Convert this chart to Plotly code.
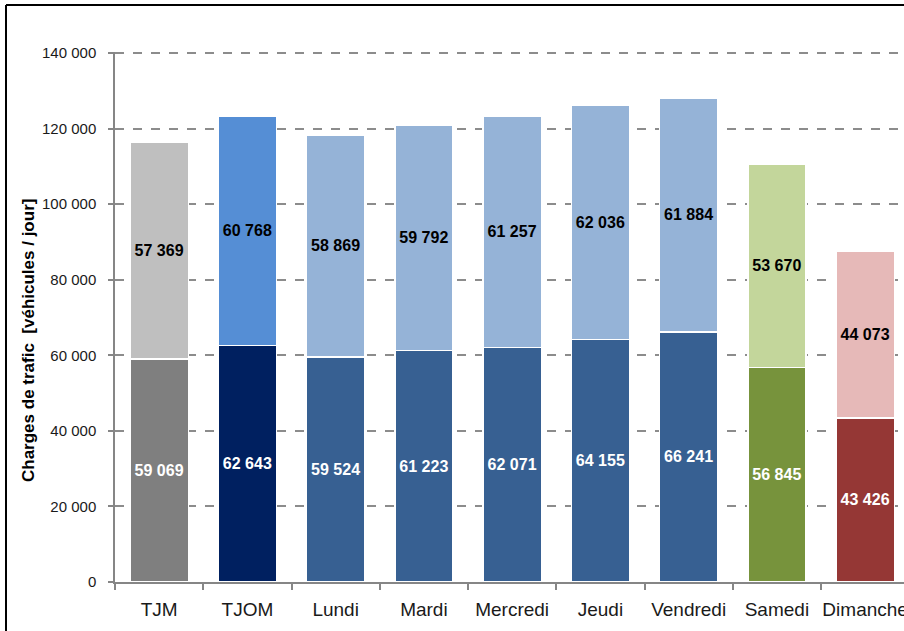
import plotly.graph_objects as go

categories = ["TJM", "TJOM", "Lundi", "Mardi", "Mercredi", "Jeudi", "Vendredi", "Samedi", "Dimanche"]
lower_values = [59069, 62643, 59524, 61223, 62071, 64155, 66241, 56845, 43426]
upper_values = [57369, 60768, 58869, 59792, 61257, 62036, 61884, 53670, 44073]

lower_colors = ["#7F7F7F", "#002060", "#376092", "#376092", "#376092", "#376092", "#376092", "#77933C", "#953735"]
upper_colors = ["#BFBFBF", "#558ED5", "#95B3D7", "#95B3D7", "#95B3D7", "#95B3D7", "#95B3D7", "#C3D69B", "#E6B9B8"]

y_ticks = [0, 20000, 40000, 60000, 80000, 100000, 120000, 140000]


def fmt(v):
    return f"{v:,}".replace(",", " ")


label_font = "Liberation Sans, Arial, sans-serif"

fig = go.Figure()
fig.add_trace(go.Bar(
    x=categories, y=lower_values,
    marker=dict(color=lower_colors, line=dict(color="white", width=1.5)),
    text=[fmt(v) for v in lower_values],
    textposition="inside", insidetextanchor="middle", textangle=0,
    textfont=dict(family=label_font, size=16, color="white", weight="bold"),
    width=0.66, hoverinfo="skip",
))
fig.add_trace(go.Bar(
    x=categories, y=upper_values,
    marker=dict(color=upper_colors, line=dict(color="white", width=1.5)),
    text=[fmt(v) for v in upper_values],
    textposition="inside", insidetextanchor="middle", textangle=0,
    textfont=dict(family=label_font, size=16, color="black", weight="bold"),
    width=0.66, hoverinfo="skip",
))

L, R, T, B = 115, 0, 52, 49
W, H = 904, 631
pw, ph = W - L - R, H - T - B

fig.update_layout(
    width=W, height=H,
    margin=dict(l=L, r=R, t=T, b=B),
    barmode="stack",
    showlegend=False,
    plot_bgcolor="white", paper_bgcolor="white",
    separators=", ",
    uniformtext=dict(minsize=16, mode="show"),
    font=dict(family=label_font, color="#1a1a1a"),
)
fig.update_xaxes(
    range=[-0.5, -0.5 + pw / 88.25],
    automargin=False, tickangle=0,
    showline=True, linecolor="#868686", linewidth=1.5,
    ticks="outside", tickson="boundaries", ticklen=6, tickcolor="#868686", tickwidth=1.5,
    tickfont=dict(family=label_font, size=19, color="#1a1a1a"),
    ticklabelstandoff=9,
    showgrid=False,
)
fig.update_yaxes(
    range=[0, 140300],
    automargin=False,
    tickvals=y_ticks, tickformat=",",
    showline=True, linecolor="#868686", linewidth=1.5,
    ticks="outside", ticklen=5, tickcolor="#868686", tickwidth=1.5,
    tickfont=dict(family=label_font, size=15, color="#1a1a1a"),
    ticklabelstandoff=9,
    showgrid=True, gridcolor="#8C8C8C", griddash="dash", gridwidth=1.5,
    zeroline=False,
)

# vertical axis title
fig.add_annotation(
    text="Charges de trafic  [véhicules / jour]",
    xref="paper", yref="paper",
    x=(28 - L) / pw, y=1 - (341 - T) / ph,
    xanchor="center", yanchor="middle",
    textangle=-90, showarrow=False,
    font=dict(family=label_font, size=17, color="black", weight="bold"),
)

# outer black frame (left and top edges)
fx = (6 - L) / pw
fy = 1 + (T - 5) / ph
fig.add_shape(type="line", xref="paper", yref="paper",
              x0=fx, x1=fx, y0=-1, y1=fy, line=dict(color="black", width=2))
fig.add_shape(type="line", xref="paper", yref="paper",
              x0=fx, x1=2, y0=fy, y1=fy, line=dict(color="black", width=2))

fig.write_html("out.html")
